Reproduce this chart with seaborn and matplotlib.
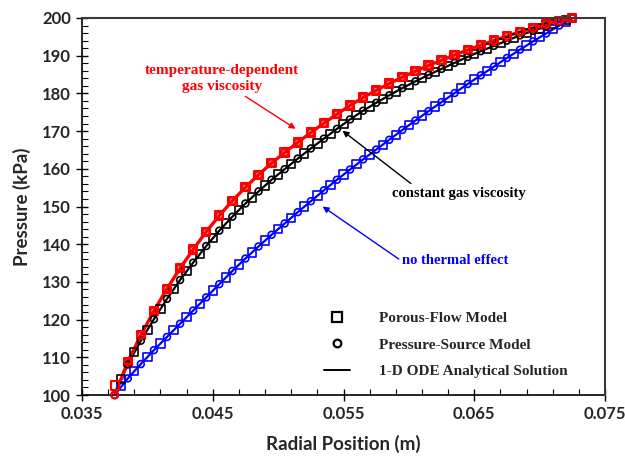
import numpy as np
import pandas as pd
import matplotlib
matplotlib.use("Agg")
import matplotlib.pyplot as plt
import seaborn as sns
from matplotlib.lines import Line2D
from matplotlib.ticker import MultipleLocator, FixedLocator, FormatStrFormatter

# ---------------- data ----------------
r_nodes = [0.0375, 0.0385, 0.0395, 0.0405, 0.0415, 0.0425, 0.0435, 0.0445, 0.0455,
           0.0465, 0.0475, 0.0485, 0.0495, 0.0505, 0.0515, 0.0525, 0.0535, 0.0545,
           0.0555, 0.0565, 0.0575, 0.0585, 0.0595, 0.0605, 0.0615, 0.0625, 0.0635,
           0.0645, 0.0655, 0.0665, 0.0675, 0.0685, 0.0695, 0.0705, 0.0715, 0.0725]
r_cells = [0.038, 0.039, 0.040, 0.041, 0.042, 0.043, 0.044, 0.045, 0.046, 0.047,
           0.048, 0.049, 0.050, 0.051, 0.052, 0.053, 0.054, 0.055, 0.056, 0.057,
           0.058, 0.059, 0.060, 0.061, 0.062, 0.063, 0.064, 0.065, 0.066, 0.067,
           0.068, 0.069, 0.070, 0.071, 0.072]

# temperature-dependent gas viscosity (red)
p_temp = [100.0, 108.8, 115.9, 122.3, 128.2, 133.6, 138.6, 143.3, 147.6, 151.5,
          155.1, 158.4, 161.5, 164.3, 167.0, 169.6, 172.1, 174.5, 176.8, 178.9,
          180.8, 182.6, 184.3, 185.9, 187.4, 188.8, 190.2, 191.5, 192.8, 194.0,
          195.2, 196.3, 197.3, 198.3, 199.2, 200.0]
p_temp_sq = [102.5, 108.8, 115.9, 122.3, 128.2, 133.6, 138.6, 143.3, 147.6, 151.5,
             155.1, 158.4, 161.5, 164.3, 167.0, 169.6, 172.1, 174.5, 176.8, 178.9,
             180.8, 182.6, 184.3, 185.9, 187.4, 188.8, 190.2, 191.5, 192.8, 194.0,
             195.2, 196.3, 197.3, 198.3, 199.2, 200.0]

# constant gas viscosity (black)
p_const = [100.0, 108.1, 114.4, 120.1, 125.5, 130.5, 135.1, 139.5, 143.6, 147.3,
           150.8, 154.0, 157.1, 159.9, 162.7, 165.4, 168.0, 170.6, 173.1, 175.4,
           177.5, 179.5, 181.4, 183.2, 184.9, 186.5, 188.1, 189.7, 191.2, 192.6,
           194.0, 195.4, 196.6, 197.8, 199.0, 200.0]
p_const_sq = [104.3, 111.4, 117.3, 122.9, 128.1, 132.9, 137.4, 141.6, 145.5, 149.1,
              152.4, 155.6, 158.5, 161.3, 164.1, 166.7, 169.3, 171.9, 174.3, 176.5,
              178.5, 180.5, 182.3, 184.1, 185.7, 187.3, 188.9, 190.5, 191.9, 193.3,
              194.7, 196.0, 197.2, 198.4, 199.5]

# no thermal effect (blue)
p_iso = [100.0, 104.4, 108.2, 111.9, 115.4, 118.9, 122.4, 125.9, 129.4, 132.9,
         136.2, 139.4, 142.5, 145.5, 148.5, 151.4, 154.3, 157.1, 159.8, 162.5,
         165.1, 167.7, 170.3, 172.8, 175.3, 177.7, 180.1, 182.5, 184.8, 187.1,
         189.4, 191.6, 193.8, 195.9, 198.0, 200.0]
p_iso_sq = [102.3, 106.3, 110.1, 113.7, 117.2, 120.7, 124.2, 127.7, 131.2, 134.6,
            137.8, 141.0, 144.0, 147.0, 150.0, 152.9, 155.7, 158.5, 161.2, 163.8,
            166.4, 169.0, 171.6, 174.1, 176.5, 178.9, 181.3, 183.7, 186.0, 188.3,
            190.5, 192.7, 194.9, 197.0, 199.0]

x_major = [0.035, 0.045, 0.055, 0.065, 0.075]
legend_labels = ["Porous-Flow Model", "Pressure-Source Model", "1-D ODE Analytical Solution"]

# ---------------- styling ----------------
sns.set_theme(style="ticks", rc={"axes.spines.top": True, "axes.spines.right": True})
plt.rcParams["font.family"] = ["Lato", "DejaVu Sans"]
plt.rcParams["font.weight"] = "bold"

fig = plt.figure(figsize=(6.25, 4.59), dpi=100)
ax = fig.add_axes([82 / 625, 1 - 395 / 459, (605 - 82) / 625, (395 - 18) / 459])

series = [
    (r_nodes, p_iso, r_cells, p_iso_sq, "#0000ff", 1.6, 1.2),
    (r_nodes, p_const, r_cells, p_const_sq, "#000000", 1.6, 1.2),
    (r_nodes, p_temp, r_nodes, p_temp_sq, "#ff0000", 2.4, 1.5),
]
for rn, pn, rs, ps, col, lw, mew in series:
    sns.lineplot(x=rn, y=pn, ax=ax, color=col, lw=lw, sort=False, zorder=2)
    sns.scatterplot(x=rs, y=ps, ax=ax, marker="s", s=36, facecolor="none",
                    edgecolor=col, linewidth=mew, zorder=3, clip_on=False)
    sns.scatterplot(x=rn, y=pn, ax=ax, marker="o", s=24, facecolor="none",
                    edgecolor=col, linewidth=mew, zorder=4, clip_on=False)

ax.set_xlim(0.035, 0.075)
ax.set_ylim(100, 200)
ax.xaxis.set_major_locator(FixedLocator(x_major))
minor_x = [x_major[0] + 0.002 * k for k in range(21) if k % 5 != 0]
ax.xaxis.set_minor_locator(FixedLocator(minor_x))
ax.yaxis.set_major_locator(MultipleLocator(10))
ax.yaxis.set_minor_locator(MultipleLocator(2))
ax.xaxis.set_major_formatter(FormatStrFormatter("%.3f"))
ax.yaxis.set_major_formatter(FormatStrFormatter("%d"))

ax.tick_params(which="major", direction="inout", length=8, width=1.0,
               labelsize=12, pad=4, color="black")
ax.tick_params(which="minor", direction="in", length=4, width=0.8, color="black")
ax.tick_params(axis="x", which="both", top=False)
ax.tick_params(axis="y", which="both", right=False)
for lab in ax.get_xticklabels() + ax.get_yticklabels():
    lab.set_fontweight("bold")

# frame: dark left/bottom, grey top/right
for side in ["left", "bottom"]:
    ax.spines[side].set_visible(True)
    ax.spines[side].set_color("black")
    ax.spines[side].set_linewidth(1.2)
for side in ["top", "right"]:
    ax.spines[side].set_visible(True)
    ax.spines[side].set_color("#3a3a3a")
    ax.spines[side].set_linewidth(1.5)
    ax.spines[side].set_zorder(5)

ax.set_xlabel("Radial Position (m)", fontsize=13.5, fontweight="bold", labelpad=9)
ax.set_ylabel("Pressure (kPa)", fontsize=13.5, fontweight="bold", labelpad=8)

serif = ["Liberation Serif", "DejaVu Serif"]

# annotations
ax.annotate("temperature-dependent\ngas viscosity", xy=(0.05134, 170.6),
            xytext=(0.04569, 184.0), ha="center", va="center", color="#ff0000",
            fontsize=11, fontweight="bold", family=serif, linespacing=1.35,
            arrowprops=dict(arrowstyle="-|>", color="#ff0000", lw=1.0,
                            mutation_scale=9, shrinkA=0, shrinkB=0,
                            relpos=(0.62, 0.0)))
ax.annotate("constant gas viscosity", xy=(0.05492, 170.1),
            xytext=(0.05874, 153.5), ha="left", va="center", color="black",
            fontsize=10.5, fontweight="bold", family=serif,
            arrowprops=dict(arrowstyle="-|>", color="black", lw=1.0,
                            mutation_scale=9, shrinkA=0, shrinkB=0,
                            relpos=(0.17, 1.0)))
ax.annotate("no thermal effect", xy=(0.0534, 150.0),
            xytext=(0.05948, 135.7), ha="left", va="center", color="#0000ff",
            fontsize=10.5, fontweight="bold", family=serif,
            arrowprops=dict(arrowstyle="-|>", color="#0000ff", lw=1.0,
                            mutation_scale=9, shrinkA=0, shrinkB=0,
                            relpos=(-0.03, 0.6)))

# legend
handles = [
    Line2D([], [], ls="none", marker="s", ms=7.5, mfc="none", mec="black", mew=1.6),
    Line2D([], [], ls="none", marker="o", ms=5.5, mfc="none", mec="black", mew=1.6),
    Line2D([], [], ls="-", color="black", lw=1.4),
]
leg = ax.legend(handles, legend_labels, loc="upper left", bbox_to_anchor=(0.462, 0.222),
                frameon=False, borderaxespad=0, borderpad=0, handlelength=1.7,
                handletextpad=1.9, labelspacing=0.85,
                prop=dict(family=serif, weight="bold", size=11))

fig.savefig("out.png", dpi=100)
